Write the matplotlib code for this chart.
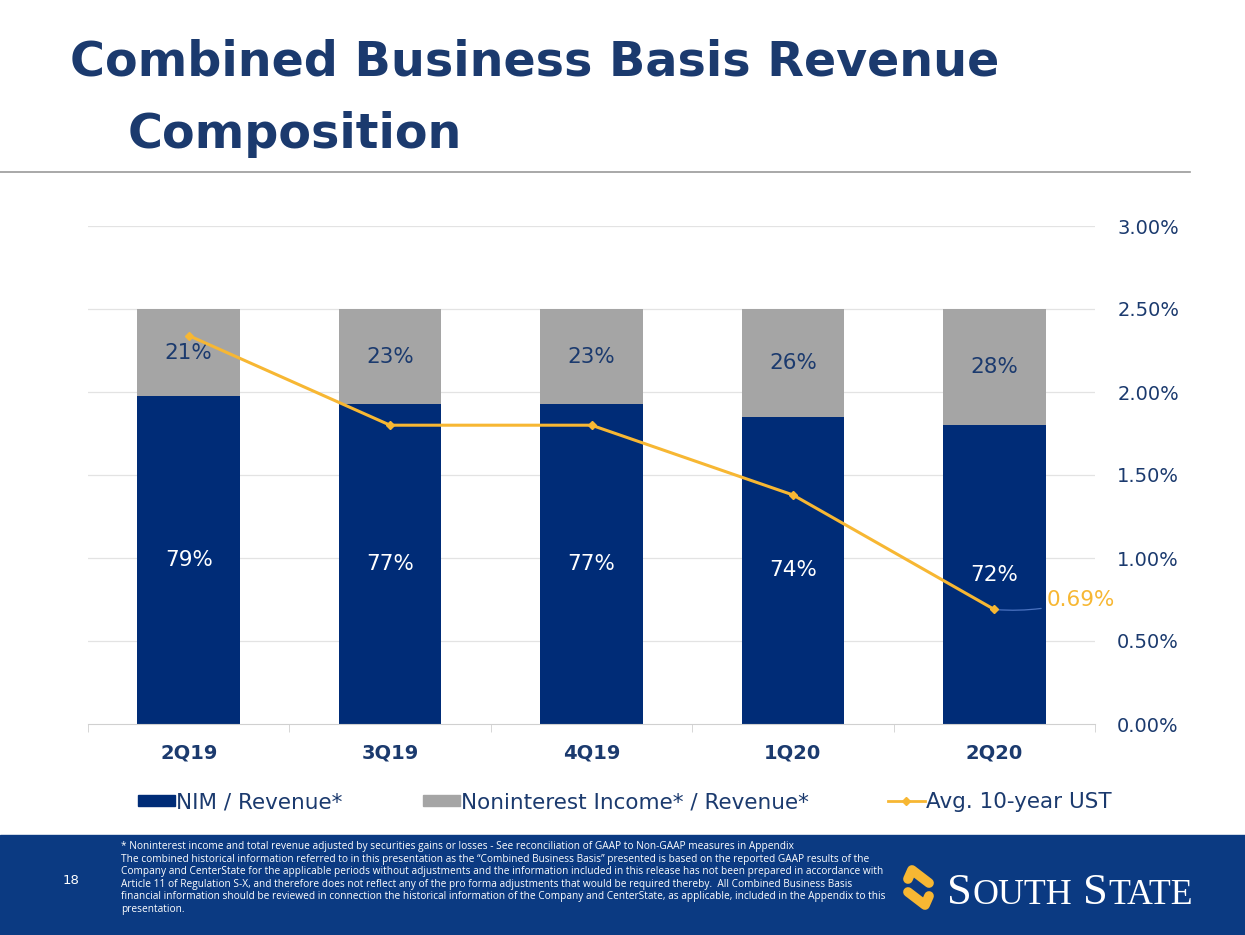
import matplotlib
matplotlib.use("Agg")
import matplotlib.pyplot as plt
from matplotlib.patches import Rectangle
from matplotlib.lines import Line2D
from matplotlib.ticker import FuncFormatter

quarters = ["2Q19", "3Q19", "4Q19", "1Q20", "2Q20"]
nim_share = [0.79, 0.77, 0.77, 0.74, 0.72]
nonint_share = [0.21, 0.23, 0.23, 0.26, 0.28]
ust_10y = [2.34, 1.80, 1.80, 1.38, 0.69]
right_ticks = [0.0, 0.5, 1.0, 1.5, 2.0, 2.5, 3.0]

NAVY = "#002C77"
TXT = "#1B3A6E"
GREY = "#A5A5A5"
YELLOW = "#F7B733"
BANNER = "#0B3A82"

plt.rcParams['font.family'] = ['DejaVu Sans']

fig = plt.figure(figsize=(12.45, 9.35), dpi=100)

def px(xp, yp):
    return (xp/1245, 1-yp/935)

# Title
fig.text(*px(70, 62), "Combined Business Basis Revenue", fontsize=34.3, fontweight='bold',
         color=TXT, va='center', ha='left')
fig.text(*px(128, 135), "Composition", fontsize=34.3, fontweight='bold',
         color=TXT, va='center', ha='left')
fig.add_artist(Line2D([0, 1190/1245], [1-172/935, 1-172/935], color="#9A9A9A", lw=1.2))

# Axes
ax = fig.add_axes([88/1245, 1-724/935, 1007/1245, (724-226)/935])
x = list(range(len(quarters)))
bw = 0.51
for t in right_ticks[1:]:
    ax.axhline(t/3.0*1.2, color="#E3E3E3", lw=0.9, zorder=0)
ax.bar(x, nim_share, width=bw, color=NAVY, zorder=2)
ax.bar(x, nonint_share, width=bw, bottom=nim_share, color=GREY, zorder=2)
ax.set_ylim(0, 1.2)
ax.set_xlim(-0.5, len(quarters)-0.5)
for i in x:
    ax.text(i, nim_share[i]/2, f"{nim_share[i]*100:.0f}%", color="white", fontsize=15.5,
            ha='center', va='center', zorder=5)
    ax.text(i, nim_share[i] + nonint_share[i]/2, f"{nonint_share[i]*100:.0f}%", color=TXT,
            fontsize=15.5, ha='center', va='center', zorder=5)
ax.set_yticks([])
for s in ['top', 'right', 'left']:
    ax.spines[s].set_visible(False)
ax.spines['bottom'].set_color("#D0D0D0")
ax.set_xticks(x)
ax.set_xticklabels(quarters, fontsize=14, color=TXT, fontweight='bold')
ax.tick_params(axis='x', which='major', length=0, pad=14)
ax.set_xticks([i-0.5 for i in range(len(quarters)+1)], minor=True)
ax.tick_params(axis='x', which='minor', length=6, color="#D0D0D0")

ax2 = ax.twinx()
ax2.set_ylim(0, 3.0)
ax2.set_yticks(right_ticks)
ax2.yaxis.set_major_formatter(FuncFormatter(lambda v, p: f"{v:.2f}%"))
ax2.tick_params(axis='y', length=0, labelsize=14, labelcolor=TXT, pad=16)
for s in ['top', 'right', 'left', 'bottom']:
    ax2.spines[s].set_visible(False)
ax2.patch.set_visible(False)

ax2.plot(x, ust_10y, color=YELLOW, lw=2.2, marker='D', markersize=4, zorder=4)
ax2.annotate(f"{ust_10y[-1]:.2f}%", xy=(x[-1], ust_10y[-1]), xytext=(x[-1]+0.26, 0.75),
             color=YELLOW, fontsize=15.5, ha='left', va='center',
             arrowprops=dict(arrowstyle='-', color="#4A72C0", lw=0.9,
                             connectionstyle="arc3,rad=-0.1", shrinkA=2, shrinkB=1))

# Legend (three entries placed along one row)
handles = [Rectangle((0, 0), 1, 1, color=NAVY), Rectangle((0, 0), 1, 1, color=GREY),
           Line2D([], [], color=YELLOW, lw=2, marker='D', markersize=4)]
labels = ["NIM / Revenue*", "Noninterest Income* / Revenue*", "Avg. 10-year UST"]
leg_x = [138, 423, 888]
for h, l, lx in zip(handles, labels, leg_x):
    fig.legend([h], [l], loc='center left', bbox_to_anchor=px(lx, 802), frameon=False,
               fontsize=15.5, labelcolor=TXT, handlelength=1.7, handleheight=0.45,
               handletextpad=0.05, borderpad=0, borderaxespad=0)

# Bottom banner
fig.add_artist(Rectangle((0, 0), 1, 100/935, transform=fig.transFigure, color=BANNER, zorder=0))
fig.text(*px(63, 881), "18", color="white", fontsize=9.5, ha='left', va='center')
foot = ("* Noninterest income and total revenue adjusted by securities gains or losses - See reconciliation of GAAP to Non-GAAP measures in Appendix\n"
        "The combined historical information referred to in this presentation as the \u201cCombined Business Basis\u201d presented is based on the reported GAAP results of the\n"
        "Company and CenterState for the applicable periods without adjustments and the information included in this release has not been prepared in accordance with\n"
        "Article 11 of Regulation S-X, and therefore does not reflect any of the pro forma adjustments that would be required thereby.  All Combined Business Basis\n"
        "financial information should be reviewed in connection the historical information of the Company and CenterState, as applicable, included in the Appendix to this\n"
        "presentation.")
fig.text(*px(121, 841), foot, color="white", fontsize=7.25, ha='left', va='top',
         linespacing=1.2, family=['Open Sans', 'DejaVu Sans'])

# Logo icon: two rounded slanted strokes forming an S
s1 = [(908, 879), (912, 870), (929, 883)]
s2 = [(929, 896), (925, 905), (908, 892)]
for s in (s1, s2):
    xs = [p[0]/1245 for p in s]
    ys = [1-p[1]/935 for p in s]
    fig.add_artist(Line2D(xs, ys, color=YELLOW, lw=7.0, solid_capstyle='round',
                          solid_joinstyle='round', transform=fig.transFigure))

# Logo wordmark in small caps, placed piece by piece
renderer = fig.canvas.get_renderer()
pieces = [("S", 32), ("OUTH", 25.8), ("\u2009", 25), ("S", 32), ("TATE", 25.8)]
cur = 947
for txt, fs in pieces:
    if txt == "\u2009":
        cur += 11
        continue
    t = fig.text(*px(cur, 904), txt, color="white", fontsize=fs, family='Liberation Serif',
                 ha='left', va='baseline')
    bb = t.get_window_extent(renderer)
    cur += bb.width + 0.5

fig.savefig("out.png", dpi=100)
